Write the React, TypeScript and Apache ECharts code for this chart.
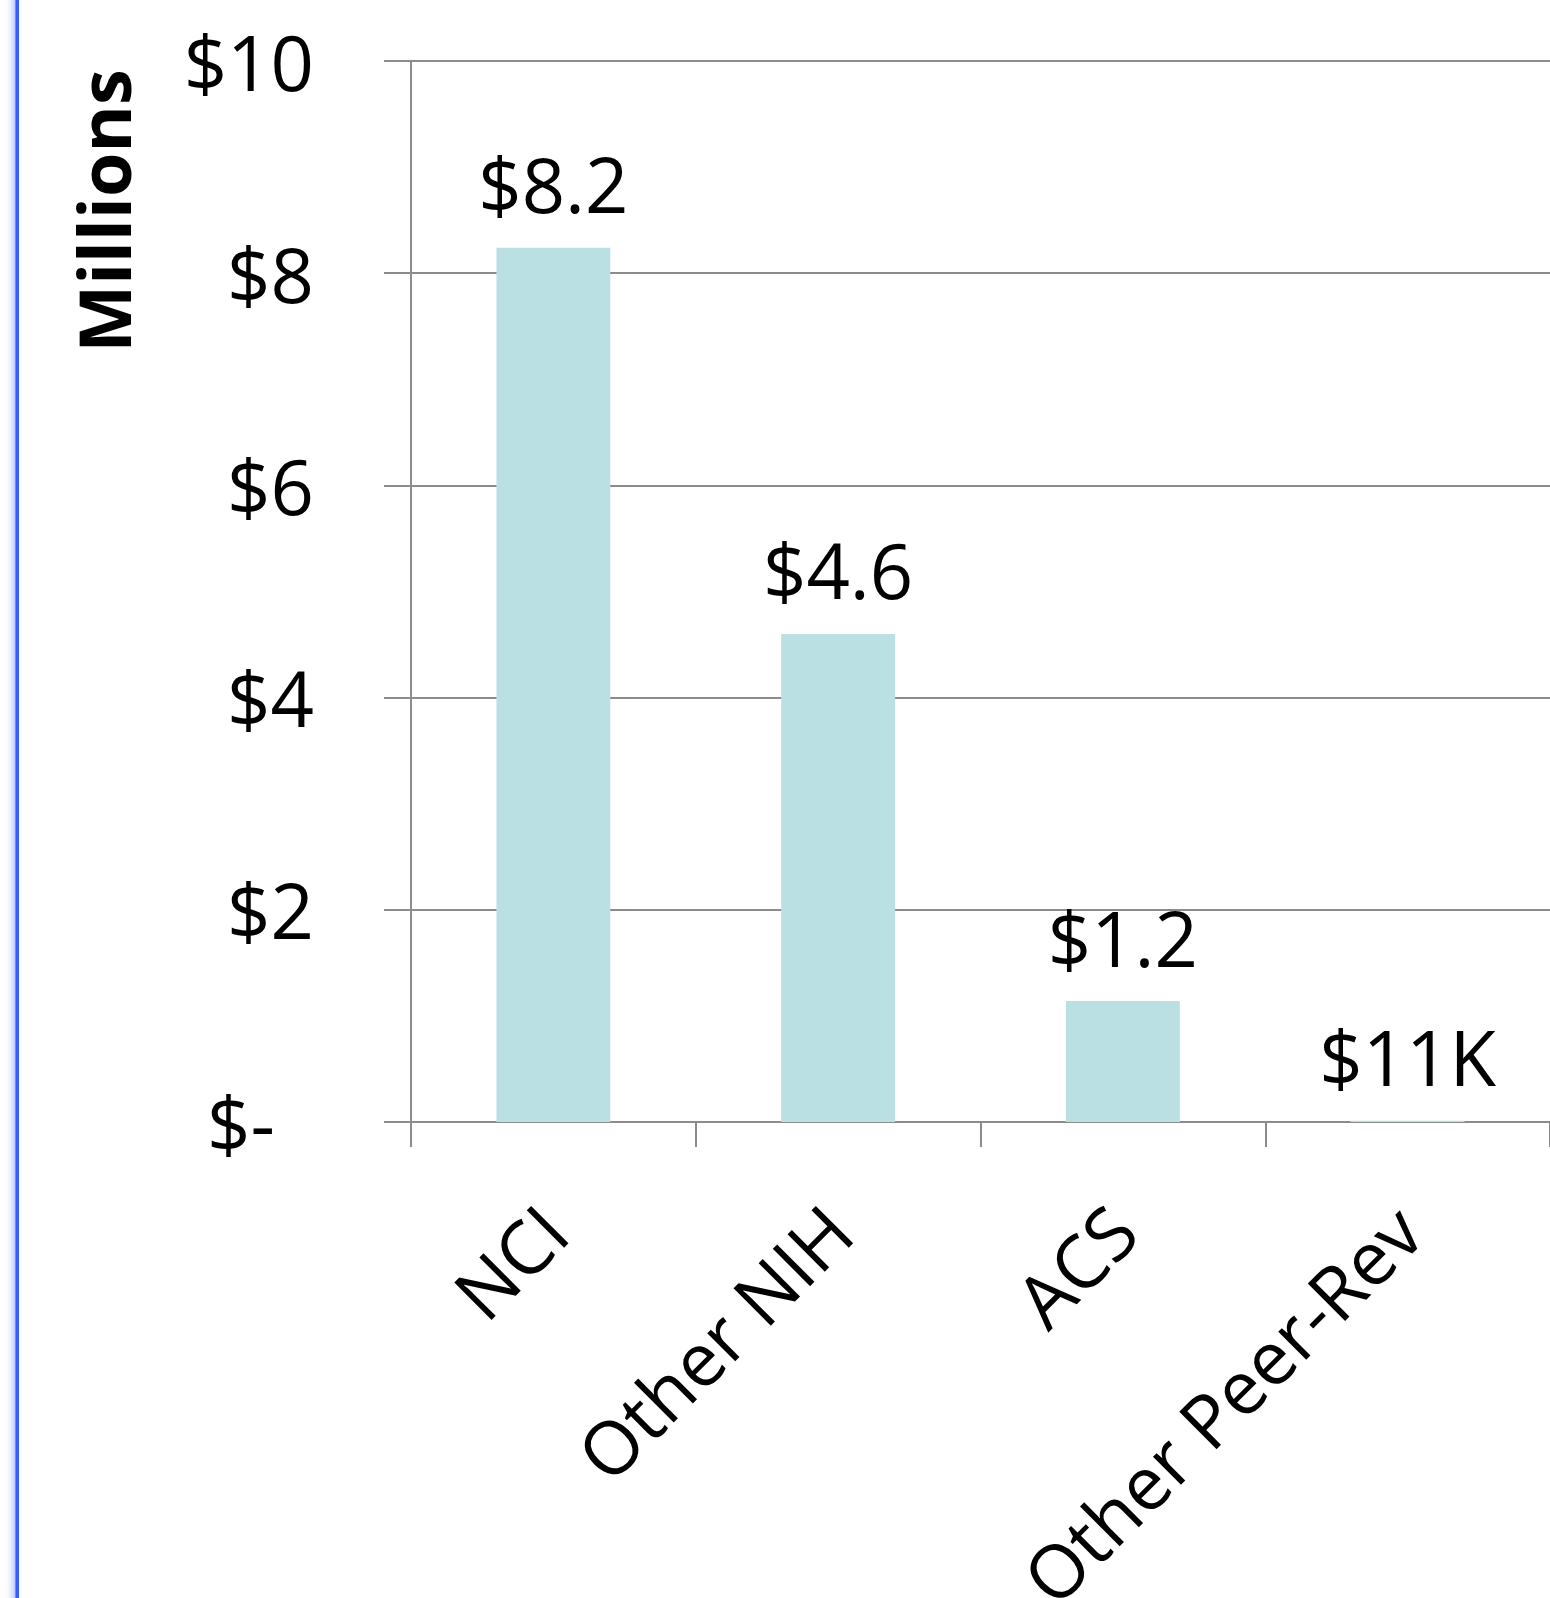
import React, { useEffect, useRef } from "react";
import * as echarts from "echarts";

const categories = ["NCI", "Other NIH", "ACS", "Other Peer-Rev"];
const values = [8.24, 4.6, 1.14, 0.011];
const valueLabels = ["$8.2", "$4.6", "$1.2", "$11K"];
const yTicks = [0, 2, 4, 6, 8, 10];
const yAxisTitle = "Millions";

const FONT = "Open Sans";

export default function App() {
  const ref = useRef<HTMLDivElement>(null);
  useEffect(() => {
    document.body.style.margin = "0";
    document.body.style.overflow = "hidden";
    const chart = echarts.init(ref.current!, null, { renderer: "svg" });
    chart.setOption({
      animation: false,
      backgroundColor: "#ffffff",
      grid: {
        left: 411,
        right: 0,
        top: 61,
        bottom: 476,
        containLabel: false,
        outerBoundsMode: "none",
      },
      xAxis: {
        type: "category",
        data: categories,
        axisLine: { show: true, lineStyle: { color: "#8c8c8c", width: 2 } },
        axisTick: { show: true, length: 25, alignWithLabel: false, lineStyle: { color: "#8c8c8c", width: 2 } },
        axisLabel: {
          rotate: 45,
          interval: 0,
          margin: 96,
          color: "#000",
          fontFamily: FONT,
          fontSize: 74,
        },
      },
      yAxis: {
        type: "value",
        min: yTicks[0],
        max: yTicks[yTicks.length - 1],
        interval: 2,
        axisLine: { show: true, lineStyle: { color: "#8c8c8c", width: 2 } },
        axisTick: { show: true, inside: false, length: 27, lineStyle: { color: "#8c8c8c", width: 2 } },
        splitLine: { show: true, lineStyle: { color: "#8c8c8c", width: 2 } },
        axisLabel: {
          margin: 97,
          color: "#000",
          fontFamily: FONT,
          fontSize: 76,
          formatter: (v: number) => (v === 0 ? "{z|$-}" : "$" + v),
          rich: { z: { fontFamily: FONT, fontSize: 76, color: "#000", padding: [0, 39, 0, 0] } },
        },
      },
      graphic: [
        {
          type: "rect",
          shape: { x: 4, y: 0, width: 15, height: 1598 },
          style: {
            fill: new echarts.graphic.LinearGradient(0, 0, 1, 0, [
              { offset: 0, color: "rgba(255,255,255,0)" },
              { offset: 0.7, color: "rgba(150,175,255,0.6)" },
              { offset: 0.8, color: "#3a5cff" },
              { offset: 1, color: "#3a5cff" },
            ]),
          },
          silent: true,
        },
        {
          type: "text",
          x: 103,
          y: 211,
          rotation: Math.PI / 2,
          style: {
            text: yAxisTitle,
            fontFamily: FONT,
            fontWeight: "bold",
            fontSize: 72,
            fill: "#000",
            align: "center",
            verticalAlign: "middle",
          },
        },
      ],
      series: [
        {
          type: "bar",
          data: values,
          barWidth: "40%",
          itemStyle: { color: "#BAE0E3" },
          label: {
            show: true,
            position: "top",
            distance: 26,
            color: "#000",
            fontFamily: FONT,
            fontSize: 76,
            formatter: (p: any) => valueLabels[p.dataIndex],
          },
        },
      ],
    });
    return () => chart.dispose();
  }, []);
  return (
    <div
      ref={ref}
      style={{ position: "fixed", left: 0, top: 0, width: 1550, height: 1598 }}
    />
  );
}
